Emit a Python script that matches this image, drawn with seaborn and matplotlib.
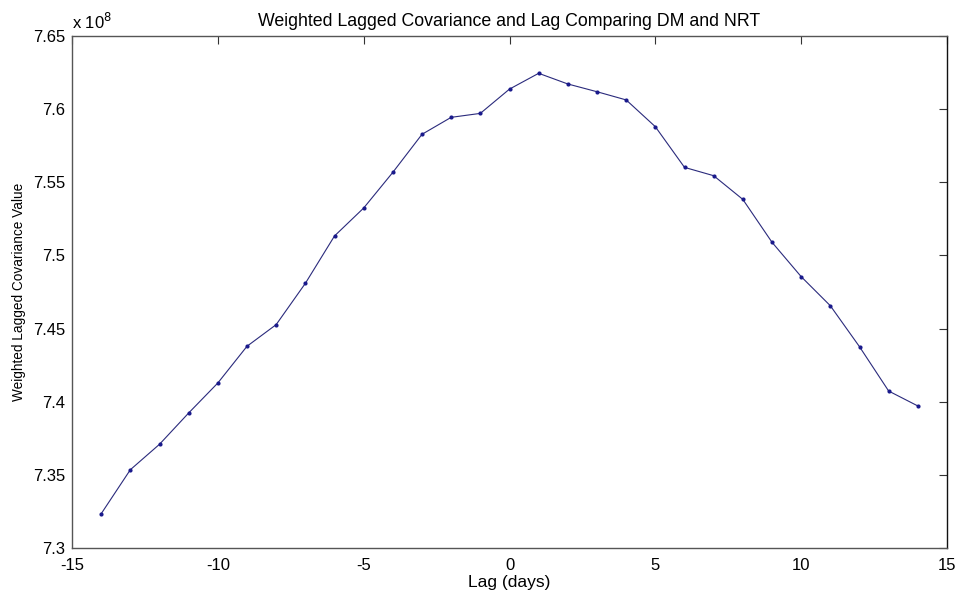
import matplotlib
matplotlib.use("Agg")
import matplotlib.pyplot as plt
from matplotlib import font_manager
import seaborn as sns
import pandas as pd

# Data (values in units of 1e8)
lags = [-14, -13, -12, -11, -10, -9, -8, -7, -6, -5, -4, -3, -2, -1, 0,
        1, 2, 3, 4, 5, 6, 7, 8, 9, 10, 11, 12, 13, 14]
cov_e8 = [7.3234, 7.3535, 7.3709, 7.3923, 7.4128, 7.4379, 7.4527, 7.4809,
          7.5133, 7.5324, 7.5568, 7.5828, 7.5944, 7.5971, 7.6137, 7.6245,
          7.6172, 7.6119, 7.6063, 7.5880, 7.5602, 7.5545, 7.5383, 7.5090,
          7.4855, 7.4656, 7.4376, 7.4073, 7.3971]
x_ticks = [-15, -10, -5, 0, 5, 10, 15]
y_ticks = [7.3, 7.35, 7.4, 7.45, 7.5, 7.55, 7.6, 7.65]
y_tick_labels = ["7.3", "7.35", "7.4", "7.45", "7.5", "7.55", "7.6", "7.65"]

df = pd.DataFrame({"lag": lags, "cov": cov_e8})

sns.set_style("white")
plt.rcParams["font.family"] = ["Liberation Sans", "DejaVu Sans"]
plt.rcParams["text.color"] = "black"
plt.rcParams["axes.labelcolor"] = "black"
plt.rcParams["xtick.color"] = "black"
plt.rcParams["ytick.color"] = "black"

available = {f.name for f in font_manager.fontManager.ttflist}
if "Liberation Sans Narrow" in available:
    ylab_family, ylab_size = ["Liberation Sans Narrow", "Liberation Sans"], 12
else:
    ylab_family, ylab_size = ["Liberation Sans", "DejaVu Sans"], 9.8

fig = plt.figure(figsize=(9.57, 5.93), dpi=100)
ax = fig.add_axes([72 / 957, 1 - 548 / 593, (947 - 72) / 957, (548 - 36) / 593])

sns.lineplot(data=df, x="lag", y="cov", ax=ax, color="#2a2a7c", linewidth=0.8,
             marker="o", markersize=3, markeredgewidth=0, markerfacecolor="#1a1a8c")

ax.set_xlim(-15, 15)
ax.set_ylim(7.3, 7.65)
ax.set_xticks(x_ticks)
ax.set_xticklabels([str(t) for t in x_ticks])
ax.set_yticks(y_ticks)
ax.set_yticklabels(y_tick_labels)

for s in ax.spines.values():
    s.set_color("#555555")
    s.set_linewidth(1.0)
ax.spines["right"].set_color("#111111")

ax.tick_params(direction="in", length=6, width=0.8, color="#333333",
               labelcolor="black", top=True, right=True, labelsize=12)
ax.tick_params(axis="x", pad=7)
ax.tick_params(axis="y", pad=5)

ax.set_xlabel("Lag (days)", fontsize=12.5, labelpad=2, color="black")
ax.set_ylabel("Weighted Lagged Covariance Value", fontsize=ylab_size,
              family=ylab_family, labelpad=5, color="black")
ax.set_title("Weighted Lagged Covariance and Lag Comparing DM and NRT",
             fontsize=12.8, pad=7, color="black")

ax.text(0.0, 1.013, r"x 10$^{8}$", transform=ax.transAxes, fontsize=12,
        ha="left", va="baseline", color="black")

fig.savefig("out.png", dpi=100, facecolor="white")
